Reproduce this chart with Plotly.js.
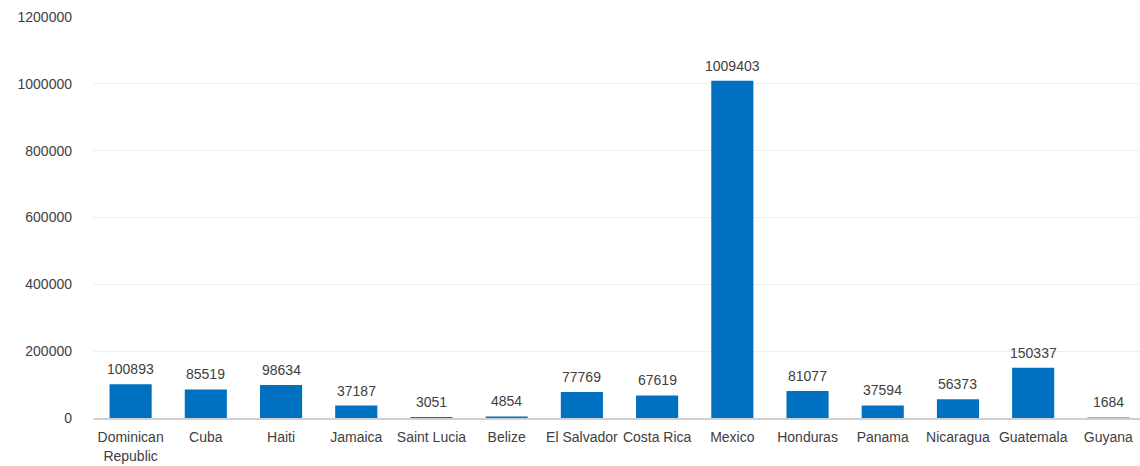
<!DOCTYPE html>
<html><head><meta charset="utf-8">
<script src="https://cdn.plot.ly/plotly-3.0.1.min.js"></script>
<style>html,body{margin:0;padding:0;overflow:hidden;background:#fff}#c{width:1146px;height:466px}</style>
</head><body><div id="c"></div>
<script>
const countries = ["Dominican<br>Republic","Cuba","Haiti","Jamaica","Saint Lucia","Belize","El Salvador","Costa Rica","Mexico","Honduras","Panama","Nicaragua","Guatemala","Guyana"];
const values = [100893,85519,98634,37187,3051,4854,77769,67619,1009403,81077,37594,56373,150337,1684];
const yTicks = [0,200000,400000,600000,800000,1000000,1200000];

const labelFont = {family:'Liberation Sans, Arial, sans-serif', size:14, color:'#404040'};
const annotations = countries.map((c,i)=>({
  x:c, y:values[i], xref:'x', yref:'y', text:String(values[i]),
  showarrow:false, yanchor:'bottom', yshift:5, font:labelFont
}));

Plotly.newPlot('c',[{
  type:'bar', x:countries, y:values,
  marker:{color:'#0070C0'},
  hoverinfo:'none'
}],{
  width:1146, height:466,
  margin:{l:93,r:0,t:17,b:48},
  bargap:0.44,
  paper_bgcolor:'#fff', plot_bgcolor:'#fff',
  font:{family:'Liberation Sans, Arial, sans-serif', size:14, color:'#595959'},
  annotations:annotations,
  xaxis:{type:'category', showgrid:false, showline:true, linecolor:'#d0d0d0', linewidth:1.5,
         ticks:'', ticklabelstandoff:6, tickfont:{size:14,color:'#404040'}},
  yaxis:{range:[0,1200000], tickvals:yTicks, ticktext:yTicks.map(String),
         showgrid:true, gridcolor:'#efefef', zeroline:false, showline:false,
         ticks:'', ticklabelstandoff:20, tickfont:{size:14,color:'#404040'}},
  showlegend:false
},{displayModeBar:false, staticPlot:true});
</script></body></html>
